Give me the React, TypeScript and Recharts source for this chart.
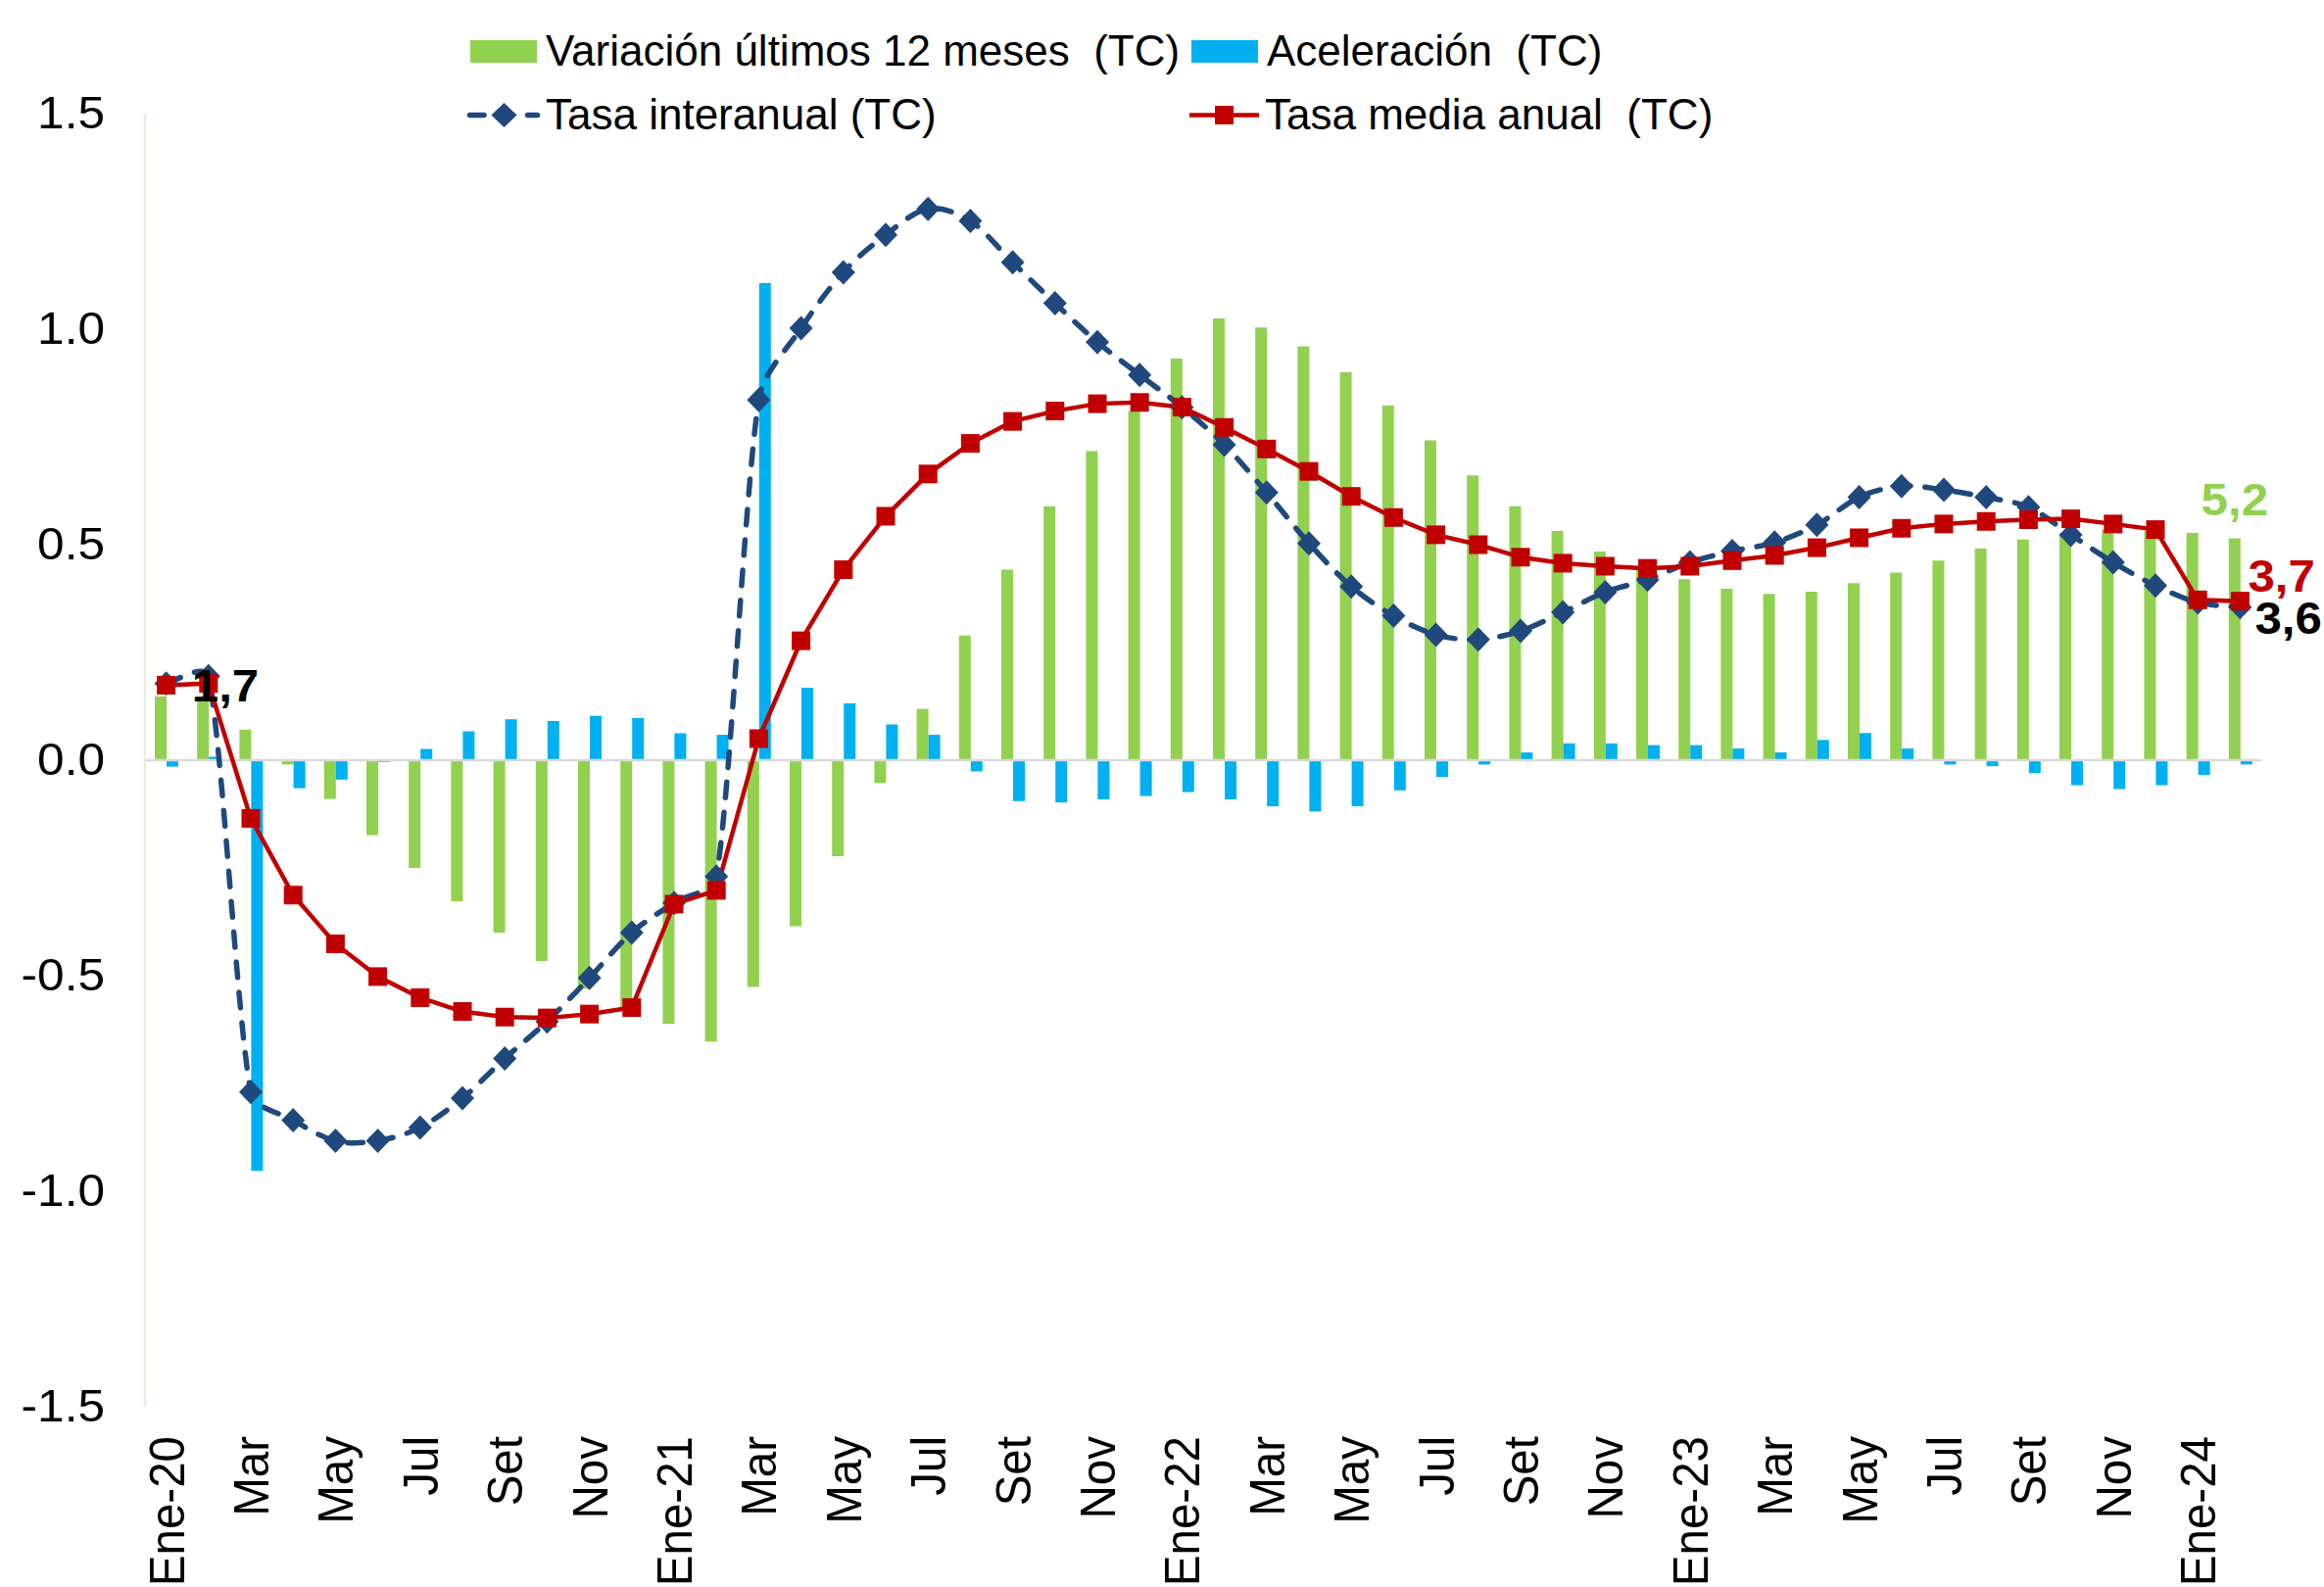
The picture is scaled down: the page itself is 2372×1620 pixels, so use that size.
import React from 'react';
import {
  ComposedChart, Bar, Line, XAxis, YAxis, ReferenceLine, Legend, LabelList,
} from 'recharts';

// ---------- data ----------
const months = [
  'Ene-20', 'Feb', 'Mar', 'Abr', 'May', 'Jun', 'Jul', 'Ago', 'Set', 'Oct', 'Nov', 'Dic',
  'Ene-21', 'Feb', 'Mar', 'Abr', 'May', 'Jun', 'Jul', 'Ago', 'Set', 'Oct', 'Nov', 'Dic',
  'Ene-22', 'Feb', 'Mar', 'Abr', 'May', 'Jun', 'Jul', 'Ago', 'Set', 'Oct', 'Nov', 'Dic',
  'Ene-23', 'Feb', 'Mar', 'Abr', 'May', 'Jun', 'Jul', 'Ago', 'Set', 'Oct', 'Nov', 'Dic',
  'Ene-24', 'Feb',
];

const variacion12m = [
  0.148, 0.148, 0.071, -0.01, -0.09, -0.174, -0.25, -0.327, -0.40, -0.466,
  -0.53, -0.574, -0.612, -0.653, -0.526, -0.385, -0.223, -0.053, 0.119, 0.289,
  0.442, 0.589, 0.717, 0.81, 0.932, 1.025, 1.004, 0.96, 0.90, 0.823,
  0.742, 0.661, 0.589, 0.532, 0.484, 0.445, 0.42, 0.398, 0.386, 0.391,
  0.411, 0.435, 0.463, 0.491, 0.512, 0.527, 0.536, 0.532, 0.527, 0.515,
];

const aceleracion = [
  -0.015, 0.008, -0.953, -0.065, -0.045, -0.004, 0.026, 0.067, 0.095, 0.091,
  0.103, 0.098, 0.0625, 0.059, 1.107, 0.168, 0.132, 0.083, 0.059, -0.026,
  -0.095, -0.098, -0.091, -0.083, -0.074, -0.091, -0.107, -0.119, -0.107, -0.07,
  -0.039, -0.01, 0.018, 0.039, 0.039, 0.035, 0.035, 0.027, 0.018, 0.047,
  0.063, 0.027, -0.01, -0.014, -0.03, -0.058, -0.067, -0.058, -0.034, -0.01,
];

const tasaInteranual = [
  0.178, 0.195, -0.77, -0.835, -0.883, -0.883, -0.852, -0.784, -0.692, -0.606,
  -0.505, -0.40, -0.331, -0.27, 0.836, 1.002, 1.132, 1.219, 1.279, 1.251,
  1.155, 1.06, 0.97, 0.894, 0.819, 0.732, 0.621, 0.503, 0.403, 0.335,
  0.291, 0.28, 0.30, 0.343, 0.39, 0.419, 0.459, 0.485, 0.505, 0.546,
  0.61, 0.636, 0.627, 0.61, 0.587, 0.523, 0.459, 0.405, 0.366, 0.355,
];

const tasaMedia = [
  0.174, 0.178, -0.135, -0.313, -0.426, -0.502, -0.551, -0.583, -0.596, -0.598,
  -0.589, -0.574, -0.334, -0.302, 0.05, 0.277, 0.442, 0.566, 0.664, 0.735,
  0.786, 0.81, 0.827, 0.83, 0.819, 0.772, 0.722, 0.67, 0.612, 0.563,
  0.523, 0.50, 0.471, 0.457, 0.45, 0.445, 0.45, 0.463, 0.475, 0.493,
  0.516, 0.538, 0.548, 0.554, 0.558, 0.56, 0.548, 0.535, 0.372, 0.369,
];

const yTicks = [-1.5, -1.0, -0.5, 0, 0.5, 1.0, 1.5];

const legendLabels = [
  'Variación últimos 12 meses  (TC)',
  'Aceleración  (TC)',
  'Tasa interanual (TC)',
  'Tasa media anual  (TC)',
];

// data labels: [index, text]
const interanualLabels: [number, string][] = [[1, '1,7'], [49, '3,6']];
const mediaLabels: [number, string][] = [[49, '3,7']];
const variacionLabels: [number, string][] = [[49, '5,2']];

const data = months.map((mes, i) => ({
  mes,
  variacion: variacion12m[i],
  aceleracion: aceleracion[i],
  interanual: tasaInteranual[i],
  media: tasaMedia[i],
}));

// ---------- style ----------
const GREEN = '#92D050';
const CYAN = '#00B0F0';
const NAVY = '#1F497D';
const RED = '#C00000';
const FONT = '"Liberation Sans", Arial, sans-serif';

// Excel-like smoothed curve: cardinal bezier with handles clamped to 1/3 of the segment
function excelSmooth(context: any) {
  let pts: number[][] = [];
  const clampVec = (vx: number, vy: number, maxLen: number) => {
    const len = Math.hypot(vx, vy);
    if (len <= maxLen || len === 0) return [vx, vy];
    const k = maxLen / len;
    return [vx * k, vy * k];
  };
  return {
    areaStart() {},
    areaEnd() {},
    lineStart() { pts = []; },
    lineEnd() {
      const n = pts.length;
      if (!n) return;
      context.moveTo(pts[0][0], pts[0][1]);
      for (let i = 0; i < n - 1; i++) {
        const p0 = pts[Math.max(0, i - 1)];
        const p1 = pts[i];
        const p2 = pts[i + 1];
        const p3 = pts[Math.min(n - 1, i + 2)];
        const seg = Math.hypot(p2[0] - p1[0], p2[1] - p1[1]);
        const t1 = clampVec((p2[0] - p0[0]) / 6, (p2[1] - p0[1]) / 6, seg / 3);
        const t2 = clampVec((p3[0] - p1[0]) / 6, (p3[1] - p1[1]) / 6, seg / 3);
        context.bezierCurveTo(
          p1[0] + t1[0], p1[1] + t1[1],
          p2[0] - t2[0], p2[1] - t2[1],
          p2[0], p2[1],
        );
      }
    },
    point(x: number, y: number) { pts.push([+x, +y]); },
  };
}

const Diamond = (props: any) => {
  const { cx, cy, index } = props;
  if (cx == null || cy == null) return <g key={`d${index}`} />;
  return (
    <path
      key={`d${index}`}
      d={`M${cx},${cy - 12.5} L${cx + 12},${cy} L${cx},${cy + 12.5} L${cx - 12},${cy} Z`}
      fill={NAVY}
    />
  );
};

const Square = (props: any) => {
  const { cx, cy, index } = props;
  if (cx == null || cy == null) return <g key={`s${index}`} />;
  return <rect key={`s${index}`} x={cx - 9.5} y={cy - 9.5} width={19} height={19} fill={RED} />;
};

const YTick = (props: any) => {
  const { x, y, payload } = props;
  return (
    <g transform={`translate(${x},${y}) scale(1.066,1)`}>
      <text x={0} y={15} textAnchor="end" fontSize={46.5} fontFamily={FONT} fill="#000">
        {Number(payload.value).toFixed(1)}
      </text>
    </g>
  );
};

const XTick = (props: any) => {
  const { x, y, payload } = props;
  return (
    <g transform={`translate(${x + 18},${y}) scale(1.07,1) rotate(-90)`}>
      <text x={0} y={0} textAnchor="end" fontSize={47.5} fontFamily={FONT} fill="#000">
        {payload.value}
      </text>
    </g>
  );
};

const labelText = (x: number, y: number, text: string, color: string, anchor: string, key: string) => (
  <g key={key} transform={`translate(${x},${y}) scale(1.07,1)`}>
    <text x={0} y={0} textAnchor={anchor as any} fontSize={46} fontWeight="bold" fontFamily={FONT} fill={color}>
      {text}
    </text>
  </g>
);

const InteranualLabel = (props: any) => {
  const { x, y, index } = props;
  const found = interanualLabels.find((l) => l[0] === index);
  if (!found) return null;
  if (index === 1) return labelText(x - 17, y + 26, found[1], '#000', 'start', 'li1');
  return labelText(x + 15, y + 27, found[1], '#000', 'start', `li${index}`);
};

const MediaLabel = (props: any) => {
  const { x, y, index } = props;
  const found = mediaLabels.find((l) => l[0] === index);
  if (!found) return null;
  return labelText(x + 8, y - 10, found[1], RED, 'start', `lm${index}`);
};

const VariacionLabel = (props: any) => {
  const { x, y, width, index } = props;
  const found = variacionLabels.find((l) => l[0] === index);
  if (!found) return null;
  return labelText(x + width / 2, y - 23, found[1], GREEN, 'middle', `lv${index}`);
};

const LegendContent = () => (
  <svg width={2372} height={150} style={{ display: 'block' }}>
    <rect x={480} y={41} width={68} height={23} fill={GREEN} />
    <text x={557} y={66.5} fontSize={44} fontFamily={FONT} fill="#000" style={{ whiteSpace: 'pre' }}>
      {legendLabels[0]}
    </text>
    <rect x={1216} y={41} width={68} height={23} fill={CYAN} />
    <text x={1293} y={66.5} fontSize={44} fontFamily={FONT} fill="#000" style={{ whiteSpace: 'pre' }}>
      {legendLabels[1]}
    </text>
    <line x1={479.5} y1={117.5} x2={494} y2={117.5} stroke={NAVY} strokeWidth={5.5} strokeLinecap="round" />
    <path d="M514.5,105 L527.5,117.5 L514.5,130 L501.5,117.5 Z" fill={NAVY} />
    <line x1={538.5} y1={117.5} x2={548.5} y2={117.5} stroke={NAVY} strokeWidth={5.5} strokeLinecap="round" />
    <text x={557} y={131.5} fontSize={44} fontFamily={FONT} fill="#000" style={{ whiteSpace: 'pre' }}>
      {legendLabels[2]}
    </text>
    <line x1={1214} y1={117.5} x2={1285} y2={117.5} stroke={RED} strokeWidth={4.5} />
    <rect x={1240} y={108} width={19} height={19} fill={RED} />
    <text x={1291} y={131.5} fontSize={44} fontFamily={FONT} fill="#000" style={{ whiteSpace: 'pre' }}>
      {legendLabels[3]}
    </text>
  </svg>
);

export default function App() {
  return (
    <div style={{ position: 'absolute', left: 0, top: 0, width: 2372, height: 1620, background: '#fff' }}>
      <ComposedChart
        width={2372}
        height={1620}
        data={data}
        margin={{ top: 116, right: 64, bottom: 0, left: 0 }}
        barGap={0}
      >
        <XAxis
          dataKey="mes"
          type="category"
          interval={1}
          axisLine={false}
          tickLine={false}
          tickSize={0}
          tickMargin={30}
          height={184}
          tick={<XTick />}
        />
        <YAxis
          type="number"
          domain={[-1.5, 1.5]}
          ticks={yTicks}
          allowDataOverflow
          width={148}
          axisLine={{ stroke: '#EEECE1', strokeWidth: 2.5 }}
          tickLine={false}
          tickSize={0}
          tickMargin={41}
          tick={<YTick />}
        />
        <ReferenceLine y={0} stroke="#D9D9D9" strokeWidth={2.5} />
        <Bar dataKey="variacion" fill={GREEN} barSize={12} isAnimationActive={false}>
          <LabelList dataKey="variacion" content={<VariacionLabel />} />
        </Bar>
        <Bar dataKey="aceleracion" fill={CYAN} barSize={12} isAnimationActive={false} />
        <Line
          dataKey="interanual"
          type={excelSmooth as any}
          stroke={NAVY}
          strokeWidth={5.5}
          strokeDasharray="16 15"
          strokeLinecap="round"
          dot={(p: any) => <Diamond {...p} key={`dd${p.index}`} />}
          activeDot={false}
          isAnimationActive={false}
        >
          <LabelList dataKey="interanual" content={<InteranualLabel />} />
        </Line>
        <Line
          dataKey="media"
          type="linear"
          stroke={RED}
          strokeWidth={4.5}
          dot={(p: any) => <Square {...p} key={`ss${p.index}`} />}
          activeDot={false}
          isAnimationActive={false}
        >
          <LabelList dataKey="media" content={<MediaLabel />} />
        </Line>
        <Legend
          layout="vertical"
          verticalAlign="middle"
          align="center"
          content={<LegendContent />}
          wrapperStyle={{ position: 'absolute', left: 0, top: 0, width: 2372, height: 150 }}
        />
      </ComposedChart>
    </div>
  );
}
